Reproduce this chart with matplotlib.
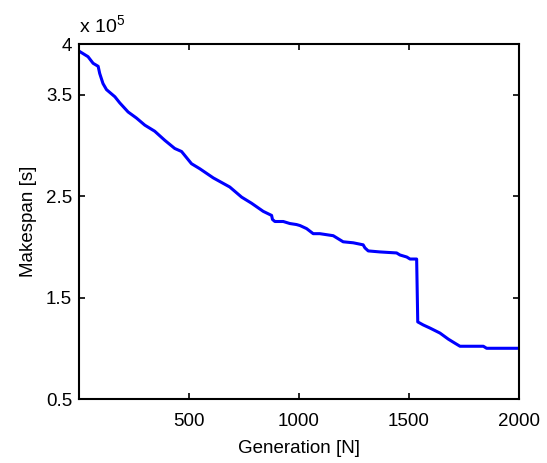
import matplotlib
matplotlib.use("Agg")
import matplotlib.pyplot as plt

plt.rcParams['font.family'] = ['Liberation Sans', 'DejaVu Sans']
plt.rcParams['mathtext.fontset'] = 'custom'
plt.rcParams['mathtext.rm'] = 'Liberation Sans'
plt.rcParams['mathtext.it'] = 'Liberation Sans'

generation = [1, 42, 65, 88, 95, 110, 126, 164, 186, 224, 262, 300, 345, 391, 436, 467,
              497, 512, 550, 611, 686, 740, 785, 838, 876, 880, 891, 929, 959, 989, 1005,
              1035, 1065, 1095, 1156, 1201, 1247, 1292, 1300, 1315, 1368, 1444, 1459,
              1490, 1505, 1535, 1540, 1565, 1595, 1641, 1679, 1709, 1732, 1838, 1853, 2000]
makespan = [3.93, 3.875, 3.81, 3.78, 3.71, 3.61, 3.55, 3.48, 3.42, 3.33, 3.27, 3.20, 3.14,
            3.05, 2.97, 2.94, 2.86, 2.82, 2.77, 2.68, 2.59, 2.49, 2.43, 2.35, 2.31, 2.27,
            2.25, 2.25, 2.23, 2.22, 2.21, 2.18, 2.13, 2.13, 2.11, 2.05, 2.04, 2.02, 1.99,
            1.96, 1.95, 1.94, 1.92, 1.90, 1.88, 1.88, 1.26, 1.23, 1.20, 1.15, 1.09, 1.05,
            1.02, 1.02, 1.00, 1.00]

xticks = [500, 1000, 1500, 2000]
yticks = [0.5, 1.5, 2.5, 3.5, 4]
yticklabels = ['0.5', '1.5', '2.5', '3.5', '4']

fig = plt.figure(figsize=(5.47, 4.63), dpi=100)
ax = fig.add_axes([79/547, 64/463, 440/547, 355/463])

ax.plot(generation, makespan, color='#0000ff', linewidth=2.2)

ax.set_xlim(1, 2000)
ax.set_ylim(0.5, 4)
ax.set_xticks(xticks)
ax.set_xticklabels([str(t) for t in xticks])
ax.set_yticks(yticks)
ax.set_yticklabels(yticklabels)

for s in ax.spines.values():
    s.set_linewidth(1.5)
    s.set_color('black')
ax.tick_params(direction='in', top=True, right=True, length=4, width=1.2,
               labelsize=13.5)
ax.tick_params(axis='x', pad=10)
ax.tick_params(axis='y', pad=5)

ax.set_xlabel('Generation [N]', fontsize=13.5, labelpad=7)
ax.set_ylabel('Makespan [s]', fontsize=13.5, labelpad=6)

ax.text(0.0, 1.022, r'x 10$^{5}$', transform=ax.transAxes, fontsize=14,
        ha='left', va='bottom')

fig.savefig('out.png', dpi=100)
